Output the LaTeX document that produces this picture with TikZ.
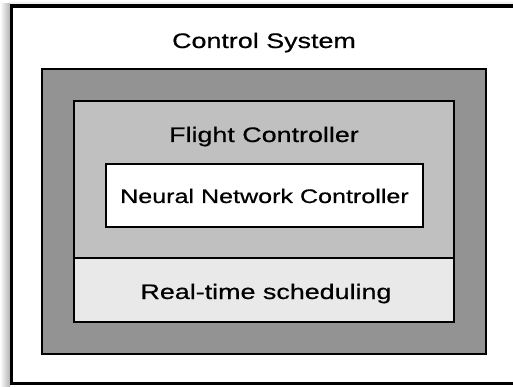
\documentclass[tikz,border=0pt]{standalone}
\usepackage{fontspec}
\setmainfont{Liberation Sans}[FakeStretch=1.28, FakeBold=0.6]
\definecolor{darkbox}{HTML}{939393}
\definecolor{midbox}{HTML}{C0C0C0}
\definecolor{lightbox}{HTML}{E9E9E9}
\tikzset{
  frame/.style={draw=black, line width=1.5pt},
  lbl/.style={anchor=base, inner sep=0pt, font=\fontsize{21}{24}\selectfont},
  lblsmall/.style={anchor=base, inner sep=0pt, font=\fontsize{19.6}{23}\selectfont}
}
\begin{document}
\begin{tikzpicture}[x=1pt, y=-1pt]
\useasboundingbox (0,0) rectangle (513,387);
\clip (0,0) rectangle (513,387);
% shadow
\shade[left color=white, right color=black!30] (0,4) rectangle (10,387);
\shade[top color=white, bottom color=black!12] (10,0) rectangle (513,5);
% outer box
\draw[fill=white, line width=3.5pt] (11.5,6) rectangle (540,383.5);
\node[lbl] (title) at (264,48) {Control System};
% dark box
\draw[frame, fill=darkbox] (42,69) rectangle (486,354);
% flight controller box
\draw[frame, fill=midbox] (74,101) rectangle (454,258);
\draw[frame, fill=lightbox] (74,258) rectangle (454,322);
\node[lbl] (fc) at (264,142) {Flight Controller};
% NN box
\draw[frame, fill=white] (106,164) rectangle (423,227);
\node[lblsmall] (nn) at (264.5,203) {Neural Network Controller};
\node[lbl] (rt) at (266,299) {Real-time scheduling};
\end{tikzpicture}
\end{document}
